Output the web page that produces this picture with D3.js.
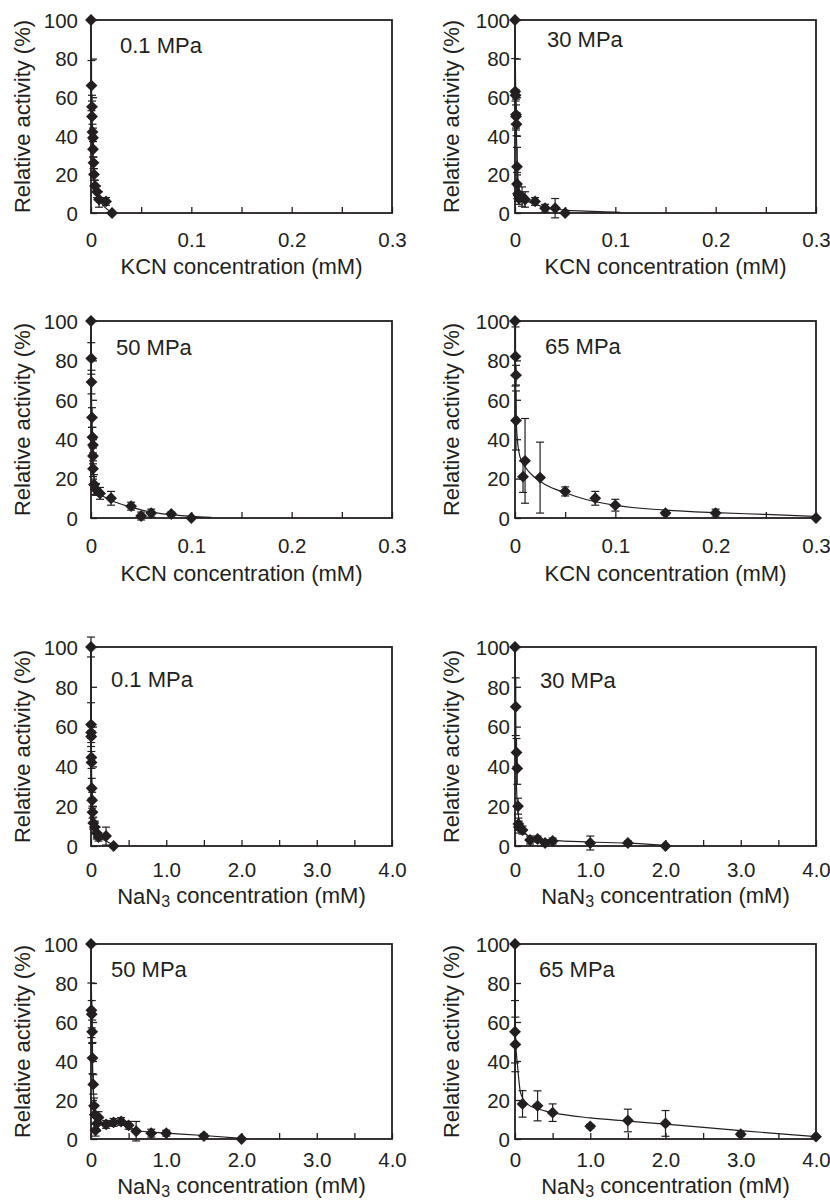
<!DOCTYPE html>
<html>
<head>
<meta charset="utf-8">
<script src="https://cdn.jsdelivr.net/npm/d3@7"></script>
<style>
  body { margin: 0; background: #fff; }
  text { font-family: "Liberation Sans", Arial, sans-serif; fill: #231f20; }
</style>
</head>
<body>
<div id="chart"></div>
<script>
// ---- data ----
var pressures = ["0.1 MPa", "30 MPa", "50 MPa", "65 MPa"];
var kcnTicks = [0, 0.05, 0.1, 0.15, 0.2, 0.25, 0.3];
var kcnTickLabels = ["0", "", "0.1", "", "0.2", "", "0.3"];
var nan3Ticks = [0, 0.5, 1, 1.5, 2, 2.5, 3, 3.5, 4];
var nan3TickLabels = ["0", "", "1.0", "", "2.0", "", "3.0", "", "4.0"];
var yTicks = [0, 20, 40, 60, 80, 100];

// KCN, 0.1 MPa
var kcn01_x   = [0, 0.0005, 0.001, 0.001, 0.0015, 0.002, 0.002, 0.0025, 0.003, 0.004, 0.006, 0.008, 0.015, 0.021];
var kcn01_y   = [100, 66, 55, 50, 42, 39, 33, 26, 20, 14, 11, 7, 6, 0];
var kcn01_err = [0, 13, 6, 8, 4, 5, 4, 3, 3, 3, 3, 4, 2, 0];
var kcn01_fitX = [0, 0.0005, 0.001, 0.002, 0.003, 0.005, 0.008, 0.012, 0.016, 0.02];
var kcn01_fitY = [100, 64, 45, 26, 17, 11, 7, 4, 2, 0.5];

// KCN, 30 MPa
var kcn30_x   = [0, 0.0002, 0.0005, 0.001, 0.001, 0.0015, 0.002, 0.002, 0.003, 0.004, 0.007, 0.01, 0.02, 0.03, 0.04, 0.05];
var kcn30_y   = [100, 63, 61, 51, 50, 46, 24, 15, 10, 7.5, 8.5, 7, 6, 2.5, 2.5, 0];
var kcn30_err = [0, 17, 3, 8, 6, 6, 10, 6, 4, 3, 5, 4, 2, 2, 5, 0];
var kcn30_fitX = [0, 0.0005, 0.001, 0.002, 0.003, 0.005, 0.01, 0.02, 0.03, 0.05, 0.07, 0.09, 0.105];
var kcn30_fitY = [100, 70, 50, 30, 18, 11, 7, 4.5, 3, 1.5, 1, 0.6, 0.4];

// KCN, 50 MPa
var kcn50_x   = [0, 0.0003, 0.0005, 0.001, 0.0015, 0.002, 0.002, 0.002, 0.003, 0.005, 0.009, 0.02, 0.04, 0.05, 0.06, 0.08, 0.1];
var kcn50_y   = [100, 81, 69, 51, 41, 37, 31.5, 25, 17, 14.5, 12.5, 10, 6, 1, 2.5, 2, 0];
var kcn50_err = [0, 8, 6, 5, 5, 4, 4, 4, 5, 3, 3, 3.5, 2, 2, 2, 1, 0];
var kcn50_fitX = [0, 0.0005, 0.001, 0.002, 0.004, 0.007, 0.01, 0.02, 0.04, 0.06, 0.08, 0.1, 0.12];
var kcn50_fitY = [100, 62, 42, 26, 18, 14, 12, 9, 5.5, 3, 1.7, 0.8, 0.3];

// KCN, 65 MPa
var kcn65_x   = [0, 0.0005, 0.001, 0.001, 0.008, 0.01, 0.025, 0.05, 0.08, 0.1, 0.15, 0.2, 0.3];
var kcn65_y   = [100, 82, 72.5, 49.5, 21, 29, 20.5, 13.5, 10, 6.5, 2.5, 2.5, 0];
var kcn65_err = [0, 15, 5, 15, 8, 21.5, 18, 2.3, 3.5, 3, 1, 2, 0];
var kcn65_fitX = [0, 0.0005, 0.001, 0.002, 0.005, 0.01, 0.02, 0.03, 0.05, 0.07, 0.1, 0.15, 0.2, 0.25, 0.3];
var kcn65_fitY = [100, 75, 55, 42, 31, 26, 20.5, 17, 12.8, 9.5, 6.4, 4, 2.7, 1.8, 0.8];

// NaN3, 0.1 MPa
var nan01_x   = [0, 0.001, 0.002, 0.003, 0.005, 0.007, 0.01, 0.015, 0.02, 0.03, 0.05, 0.075, 0.1, 0.2, 0.3];
var nan01_y   = [100, 61, 57, 55, 44.5, 42, 29, 23, 17, 11.5, 9.5, 6.5, 4.5, 5, 0];
var nan01_err = [5, 11, 3, 3, 3, 3, 5, 4, 3, 3, 3, 3, 2, 4.5, 0];
var nan01_fitX = [0, 0.002, 0.005, 0.01, 0.02, 0.04, 0.07, 0.1, 0.2, 0.3];
var nan01_fitY = [100, 62, 46, 31, 18, 11, 7, 5, 2.5, 0.5];

// NaN3, 30 MPa
var nan30_x   = [0, 0.01, 0.02, 0.03, 0.04, 0.045, 0.05, 0.1, 0.2, 0.3, 0.4, 0.5, 1.0, 1.5, 2.0];
var nan30_y   = [100, 70, 47, 39, 20, 11, 9.5, 8, 3, 3.5, 1.5, 2.5, 1.5, 1.5, 0];
var nan30_err = [0, 14.5, 7, 8, 4, 3, 3, 2, 2, 1.5, 1.5, 1.5, 3.5, 1, 0];
var nan30_fitX = [0, 0.005, 0.01, 0.02, 0.04, 0.06, 0.1, 0.2, 0.3, 0.5, 1.0, 1.5, 2.0];
var nan30_fitY = [100, 72, 50, 30, 17, 12, 8, 4.5, 3.5, 2.8, 2, 1.4, 0.3];

// NaN3, 50 MPa
var nan50_x   = [0, 0.005, 0.01, 0.015, 0.02, 0.03, 0.04, 0.05, 0.06, 0.08, 0.1, 0.2, 0.3, 0.4, 0.5, 0.6, 0.8, 1.0, 1.5, 2.0];
var nan50_y   = [100, 66, 64, 55, 41.5, 28, 17, 12.5, 4.5, 8, 11, 7.5, 8.5, 9, 7, 4, 3, 3, 1.5, 0];
var nan50_err = [0, 14, 7, 6, 8, 5, 4, 5, 3, 4, 3, 2, 2, 2, 2, 5, 2, 1.5, 1, 0];
var nan50_fitX = [0, 0.01, 0.02, 0.04, 0.06, 0.1, 0.2, 0.3, 0.4, 0.5, 0.6, 0.8, 1.0, 1.5, 2.0];
var nan50_fitY = [100, 60, 38, 20, 14, 10, 8, 8, 7.8, 6.5, 4.5, 3.5, 3, 1.8, 0.3];

// NaN3, 65 MPa
var nan65_x   = [0, 0, 0.005, 0.1, 0.3, 0.5, 1.0, 1.5, 2.0, 3.0, 4.0];
var nan65_y   = [100, 55, 48.5, 18, 17, 13.5, 6.5, 9.5, 8, 2.5, 1.2];
var nan65_err = [0, 16, 14, 6.8, 7.7, 4.5, 1, 5.8, 6.6, 1, 0.5];
var nan65_fitX = [0, 0.005, 0.01, 0.035, 0.075, 0.16, 0.3, 0.5, 1.0, 1.5, 2.0, 3.0, 4.0];
var nan65_fitY = [100, 60, 50, 37, 23.5, 18, 15.5, 13.5, 10.8, 9.2, 7.6, 4.3, 1.2];

// ---- layout ----
var colX = [91, 515];
var plotW = 301;
var rows = [
  {top: 20, bottom: 213, pad: 19, title: 61},
  {top: 321, bottom: 518, pad: 20, title: 63},
  {top: 647, bottom: 846, pad: 16, title: 58},
  {top: 944, bottom: 1139, pad: 13, title: 55}
];
var labelGap = [13, 5];
var titleX = [22, 451];

var panels = [
  {row: 0, col: 0, name: pressures[0], agent: "KCN", x: kcn01_x, y: kcn01_y, err: kcn01_err, fx: kcn01_fitX, fy: kcn01_fitY, lab: [29, 33]},
  {row: 0, col: 1, name: pressures[1], agent: "KCN", x: kcn30_x, y: kcn30_y, err: kcn30_err, fx: kcn30_fitX, fy: kcn30_fitY, lab: [32, 27]},
  {row: 1, col: 0, name: pressures[2], agent: "KCN", x: kcn50_x, y: kcn50_y, err: kcn50_err, fx: kcn50_fitX, fy: kcn50_fitY, lab: [25, 34]},
  {row: 1, col: 1, name: pressures[3], agent: "KCN", x: kcn65_x, y: kcn65_y, err: kcn65_err, fx: kcn65_fitX, fy: kcn65_fitY, lab: [30, 33]},
  {row: 2, col: 0, name: pressures[0], agent: "NaN3", x: nan01_x, y: nan01_y, err: nan01_err, fx: nan01_fitX, fy: nan01_fitY, lab: [20, 40]},
  {row: 2, col: 1, name: pressures[1], agent: "NaN3", x: nan30_x, y: nan30_y, err: nan30_err, fx: nan30_fitX, fy: nan30_fitY, lab: [25, 41]},
  {row: 3, col: 0, name: pressures[2], agent: "NaN3", x: nan50_x, y: nan50_y, err: nan50_err, fx: nan50_fitX, fy: nan50_fitY, lab: [20, 33]},
  {row: 3, col: 1, name: pressures[3], agent: "NaN3", x: nan65_x, y: nan65_y, err: nan65_err, fx: nan65_fitX, fy: nan65_fitY, lab: [24, 33]}
];

var ink = "#231f20";

var svg = d3.select("#chart").append("svg")
  .attr("width", 830)
  .attr("height", 1200);

var diamond = d3.symbol().type(d3.symbolDiamond2).size(90);

panels.forEach(function(p) {
  var left = colX[p.col],
      top = rows[p.row].top,
      h = rows[p.row].bottom - top;
  var isKcn = p.agent == "KCN";

  var x = d3.scaleLinear().domain(isKcn ? [0, 0.3] : [0, 4]).range([0, plotW]);
  var y = d3.scaleLinear().domain([0, 100]).range([h, 0]);

  var g = svg.append("g")
    .attr("transform", "translate(" + left + "," + top + ")");

  // x axis, ticks pointing in
  var xt = isKcn ? kcnTicks : nan3Ticks;
  var xl = isKcn ? kcnTickLabels : nan3TickLabels;
  var xAxis = g.append("g")
    .attr("transform", "translate(0," + h + ")")
    .call(d3.axisBottom(x).tickValues(xt)
      .tickFormat(function(d, i) { return xl[i]; })
      .tickSizeInner(-6).tickSizeOuter(0).tickPadding(rows[p.row].pad));

  // y axis, ticks pointing in
  var yAxis = g.append("g")
    .call(d3.axisLeft(y).tickValues(yTicks)
      .tickFormat(function(d) { return "" + d; })
      .tickSizeInner(-6).tickSizeOuter(0).tickPadding(labelGap[p.col]));

  [xAxis, yAxis].forEach(function(a) {
    a.select(".domain").remove();
    a.selectAll("line").attr("stroke", ink).attr("stroke-width", 1.3);
    a.selectAll("text")
      .style("font-family", "'Liberation Sans', Arial, sans-serif")
      .style("font-size", "20.5px")
      .attr("fill", ink);
  });
  yAxis.selectAll("text").attr("dy", "0.36em");

  // frame
  g.append("rect")
    .attr("width", plotW)
    .attr("height", h)
    .attr("fill", "none")
    .attr("stroke", ink)
    .attr("stroke-width", 1.8);

  // fitted curve
  var fit = p.fx.map(function(v, i) { return {x: v, y: p.fy[i]}; });
  var line = d3.line()
    .x(function(d) { return x(d.x); })
    .y(function(d) { return y(d.y); })
    .curve(d3.curveMonotoneX);

  g.append("path")
    .datum(fit)
    .attr("d", line)
    .attr("fill", "none")
    .attr("stroke", ink)
    .attr("stroke-width", 1.2);

  var pts = p.x.map(function(v, i) { return {x: v, y: p.y[i], e: p.err[i]}; });

  // error bars
  var eb = g.selectAll(".err")
    .data(pts.filter(function(d) { return d.e > 0; }))
    .enter().append("g")
    .attr("class", "err")
    .attr("stroke", ink)
    .attr("stroke-width", 1.2);

  eb.append("line")
    .attr("x1", function(d) { return x(d.x); })
    .attr("x2", function(d) { return x(d.x); })
    .attr("y1", function(d) { return y(d.y - d.e); })
    .attr("y2", function(d) { return y(d.y + d.e); });
  eb.append("line")
    .attr("x1", function(d) { return x(d.x) - 4; })
    .attr("x2", function(d) { return x(d.x) + 4; })
    .attr("y1", function(d) { return y(d.y + d.e); })
    .attr("y2", function(d) { return y(d.y + d.e); });
  eb.append("line")
    .attr("x1", function(d) { return x(d.x) - 4; })
    .attr("x2", function(d) { return x(d.x) + 4; })
    .attr("y1", function(d) { return y(d.y - d.e); })
    .attr("y2", function(d) { return y(d.y - d.e); });

  // markers
  g.selectAll(".dot")
    .data(pts)
    .enter().append("path")
    .attr("class", "dot")
    .attr("d", diamond)
    .attr("fill", ink)
    .attr("transform", function(d) { return "translate(" + x(d.x) + "," + y(d.y) + ")"; });

  // pressure label
  g.append("text")
    .attr("x", p.lab[0])
    .attr("y", p.lab[1])
    .style("font-size", "22px")
    .text(p.name);

  // y title
  svg.append("text")
    .attr("transform", "translate(" + titleX[p.col] + "," + (top + h / 2) + ") rotate(-90)")
    .attr("dy", "0.35em")
    .style("text-anchor", "middle")
    .style("font-size", "22px")
    .text("Relative activity (%)");

  // x title
  var xt2 = svg.append("text")
    .attr("x", left + plotW / 2)
    .attr("y", top + h + rows[p.row].title)
    .style("text-anchor", "middle")
    .style("font-size", "22px");
  if (isKcn) {
    xt2.text("KCN concentration (mM)");
  } else {
    xt2.append("tspan").text("NaN");
    xt2.append("tspan").attr("dy", "0.2em").style("font-size", "16px").text("3");
    xt2.append("tspan").attr("dy", "-0.2em").text(" concentration (mM)");
  }
});
</script>
</body>
</html>
